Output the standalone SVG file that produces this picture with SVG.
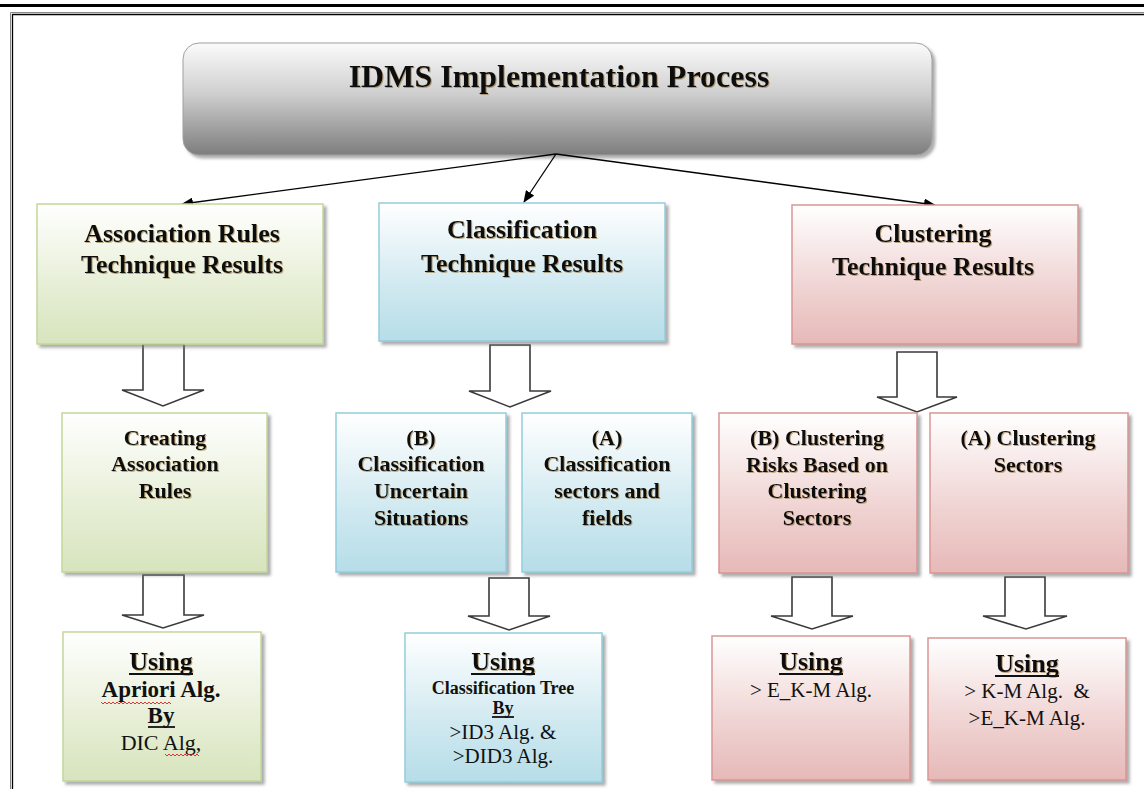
<svg xmlns="http://www.w3.org/2000/svg" width="1144" height="789" viewBox="0 0 1144 789">
<defs>
<linearGradient id="gGray" x1="0" y1="0" x2="0" y2="1">
<stop offset="0" stop-color="#fbfbfb"/><stop offset="0.45" stop-color="#cfcfcf"/><stop offset="1" stop-color="#7d7d7d"/>
</linearGradient>
<linearGradient id="gGreen" x1="0" y1="0" x2="0" y2="1">
<stop offset="0" stop-color="#ffffff"/><stop offset="0.6" stop-color="#e6eed5"/><stop offset="1" stop-color="#d7e4bd"/>
</linearGradient>
<linearGradient id="gBlue" x1="0" y1="0" x2="0" y2="1">
<stop offset="0" stop-color="#ffffff"/><stop offset="0.6" stop-color="#d0e9f0"/><stop offset="1" stop-color="#b6dde8"/>
</linearGradient>
<linearGradient id="gPink" x1="0" y1="0" x2="0" y2="1">
<stop offset="0" stop-color="#ffffff"/><stop offset="0.6" stop-color="#efd3d2"/><stop offset="1" stop-color="#e6b9b8"/>
</linearGradient>
<filter id="shadow" x="-10%" y="-10%" width="130%" height="130%">
<feDropShadow dx="3" dy="3" stdDeviation="1.5" flood-color="#777" flood-opacity="0.6"/>
</filter>
<filter id="tshadow" x="-5%" y="-20%" width="110%" height="150%">
<feDropShadow dx="1" dy="1" stdDeviation="0.6" flood-color="#8a6a30" flood-opacity="0.55"/>
</filter>
<marker id="ah" markerWidth="12" markerHeight="10" refX="11" refY="5" orient="auto" markerUnits="userSpaceOnUse">
<path d="M0,0 L12,5 L0,10 z" fill="#000"/>
</marker>
<style>
.hd{font-family:"Liberation Serif","Times New Roman",serif;font-weight:bold;fill:#111;text-anchor:middle;filter:url(#tshadow)}
.b{font-family:"Liberation Serif","Times New Roman",serif;font-weight:bold;fill:#111;text-anchor:middle}
.r{font-family:"Liberation Serif","Times New Roman",serif;fill:#111;text-anchor:middle}
.green{fill:url(#gGreen);stroke:#c3d69b;stroke-width:1.5;filter:url(#shadow)}
.blue{fill:url(#gBlue);stroke:#93cddd;stroke-width:1.5;filter:url(#shadow)}
.pink{fill:url(#gPink);stroke:#d99694;stroke-width:1.5;filter:url(#shadow)}
.blk{fill:#fff;stroke:#3a3a3a;stroke-width:1.6;stroke-linejoin:miter}
.ul{stroke:#111;stroke-width:1.8}
.sq{fill:none;stroke:#e02020;stroke-width:0.9}
</style>
</defs>
<rect x="0" y="0" width="1144" height="789" fill="#fff"/>
<rect x="0" y="4" width="1144" height="3" fill="#000"/>
<path d="M10.5,789 V12.5 H1144" fill="none" stroke="#888" stroke-width="1"/>
<path d="M12.5,789 V14.5 H1144" fill="none" stroke="#000" stroke-width="1.3"/>

<g id="title">
<rect x="183" y="43" width="749" height="112" rx="16" ry="16" fill="url(#gGray)" stroke="#a0a0a0" stroke-width="1" filter="url(#shadow)"/>
<text class="hd" x="559" y="87" font-size="32">IDMS Implementation Process</text>
</g>

<g id="connectors">
<line x1="556" y1="154" x2="182" y2="204" stroke="#000" stroke-width="1.3" marker-end="url(#ah)"/>
<line x1="556" y1="154" x2="524" y2="202" stroke="#000" stroke-width="1.3" marker-end="url(#ah)"/>
<line x1="556" y1="154" x2="935" y2="205" stroke="#000" stroke-width="1.3" marker-end="url(#ah)"/>
<polygon class="blk" points="143,344 184,344 184,390 204,390 163,406 122,390 143,390"/>
<polygon class="blk" points="490,345 530,345 530,391 551,391 510,407 469,391 490,391"/>
<polygon class="blk" points="897,352 937,352 937,397 957,397 917,412 877,397 897,397"/>
<polygon class="blk" points="143,575 184,575 184,615 204,615 163,628 122,615 143,615"/>
<polygon class="blk" points="489,578 529,578 529,616 550,616 509,630 468,616 489,616"/>
<polygon class="blk" points="792,577 832,577 832,616 853,616 812,629 771,616 792,616"/>
<polygon class="blk" points="1005,577 1045,577 1045,616 1067,616 1026,629 983,616 1005,616"/>
</g>

<g id="assoc">
<rect class="green" x="37" y="204" width="286" height="140"/>
<text class="hd" x="182" y="242" font-size="26">Association Rules</text>
<text class="hd" x="182" y="273" font-size="26">Technique Results</text>
</g>
<g id="classif">
<rect class="blue" x="379" y="203" width="286" height="138"/>
<text class="hd" x="522" y="238" font-size="26">Classification</text>
<text class="hd" x="522" y="272" font-size="26">Technique Results</text>
</g>
<g id="cluster">
<rect class="pink" x="792" y="205" width="286" height="139"/>
<text class="hd" x="933" y="242" font-size="26">Clustering</text>
<text class="hd" x="933" y="275" font-size="26">Technique Results</text>
</g>

<g id="creating">
<rect class="green" x="62" y="413" width="205" height="159"/>
<text class="hd" x="165" y="445" font-size="22">Creating</text>
<text class="hd" x="165" y="471" font-size="22">Association</text>
<text class="hd" x="165" y="498" font-size="22">Rules</text>
</g>
<g id="classB">
<rect class="blue" x="336" y="413" width="170" height="159"/>
<text class="hd" x="421" y="445" font-size="22">(B)</text>
<text class="hd" x="421" y="471" font-size="22">Classification</text>
<text class="hd" x="421" y="498" font-size="22">Uncertain</text>
<text class="hd" x="421" y="525" font-size="22">Situations</text>
</g>
<g id="classA">
<rect class="blue" x="522" y="413" width="170" height="159"/>
<text class="hd" x="607" y="445" font-size="22">(A)</text>
<text class="hd" x="607" y="471" font-size="22">Classification</text>
<text class="hd" x="607" y="498" font-size="22">sectors and</text>
<text class="hd" x="607" y="525" font-size="22">fields</text>
</g>
<g id="clustB">
<rect class="pink" x="719" y="413" width="198" height="160"/>
<text class="hd" x="817" y="445" font-size="22">(B) Clustering</text>
<text class="hd" x="817" y="472" font-size="22">Risks Based on</text>
<text class="hd" x="817" y="498" font-size="22">Clustering</text>
<text class="hd" x="817" y="525" font-size="22">Sectors</text>
</g>
<g id="clustA">
<rect class="pink" x="930" y="413" width="198" height="160"/>
<text class="hd" x="1028" y="445" font-size="22">(A) Clustering</text>
<text class="hd" x="1028" y="472" font-size="22">Sectors</text>
</g>

<g id="useApriori">
<rect class="green" x="63" y="632" width="198" height="149"/>
<text class="hd" x="161" y="670" font-size="26">Using</text>
<line class="ul" x1="129" y1="674" x2="193" y2="674"/>
<text class="b" x="161" y="697" font-size="23">Apriori Alg.</text>
<path class="sq" d="M101,702 l2,2 l2,-2 l2,2 l2,-2 l2,2 l2,-2 l2,2 l2,-2 l2,2 l2,-2 l2,2 l2,-2 l2,2 l2,-2 l2,2 l2,-2 l2,2 l2,-2 l2,2 l2,-2 l2,2 l2,-2 l2,2 l2,-2 l2,2 l2,-2 l2,2 l2,-2 l2,2 l2,-2 l2,2 l2,-2 l2,2 l2,-2 l2,2"/>
<text class="b" x="161" y="723" font-size="23">By</text>
<line class="ul" x1="148" y1="727" x2="175" y2="727"/>
<text class="r" x="161" y="750" font-size="22">DIC Alg,</text>
<path class="sq" d="M165,754 l2,2 l2,-2 l2,2 l2,-2 l2,2 l2,-2 l2,2 l2,-2 l2,2 l2,-2 l2,2 l2,-2 l2,2 l2,-2 l2,2 l2,-2 l2,2"/>
</g>
<g id="useTree">
<rect class="blue" x="405" y="633" width="197" height="149"/>
<text class="hd" x="503" y="670" font-size="26">Using</text>
<line class="ul" x1="471" y1="674" x2="535" y2="674"/>
<text class="b" x="503" y="694" font-size="18">Classification Tree</text>
<text class="b" x="503" y="714" font-size="18">By</text>
<line class="ul" x1="492" y1="717" x2="514" y2="717"/>
<text class="r" x="503" y="739" font-size="21">&gt;ID3 Alg. &amp;</text>
<text class="r" x="503" y="763" font-size="21">&gt;DID3 Alg.</text>
</g>
<g id="useEKM">
<rect class="pink" x="712" y="636" width="198" height="144"/>
<text class="hd" x="811" y="670" font-size="26">Using</text>
<line class="ul" x1="779" y1="674" x2="843" y2="674"/>
<text class="r" x="811" y="697" font-size="21">&gt; E_K-M Alg.</text>
</g>
<g id="useKM">
<rect class="pink" x="928" y="638" width="198" height="142"/>
<text class="hd" x="1027" y="672" font-size="26">Using</text>
<line class="ul" x1="995" y1="676" x2="1059" y2="676"/>
<text class="r" x="1027" y="698" font-size="21" xml:space="preserve">&gt; K-M Alg.  &amp;</text>
<text class="r" x="1027" y="725" font-size="21">&gt;E_K-M Alg.</text>
</g>
</svg>
